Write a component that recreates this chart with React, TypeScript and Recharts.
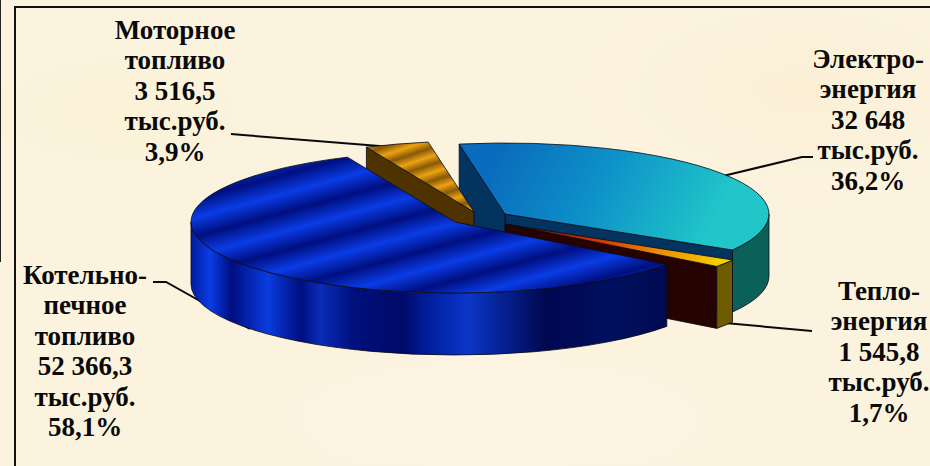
import { Pie, PieChart } from "recharts";

const categories = [
  "Электроэнергия",
  "Теплоэнергия",
  "Котельно-печное топливо",
  "Моторное топливо",
];
const values = [32648, 1545.8, 52366.3, 3516.5];
const nameLines = [
  ["Электро-", "энергия"],
  ["Тепло-", "энергия"],
  ["Котельно-", "печное", "топливо"],
  ["Моторное", "топливо"],
];
const valueLabels = ["32 648", "1 545,8", "52 366,3", "3 516,5"];
const percentLabels = ["36,2%", "1,7%", "58,1%", "3,9%"];
const unit = "тыс.руб.";

const data = categories.map((name, i) => ({ name, value: values[i] }));

// how far each slice is pulled out of the pie, in px
const OFFSETS = [
  [50, -8],
  [50, 2],
  [0, 0],
  [19, -10],
];
const TOP_FILL = ["url(#tealTop)", "url(#heatTop)", "url(#blueTop)", "url(#motorTop)"];
const RIM_FILL = ["#0b6058", "#6f5c00", "url(#blueSide)", "#503500"];
const FACE_FILL = ["#03335f", "#260300", "#000a60", "#4e3300"];

const LABEL_POS = [
  { x: 868, y: 68 },
  { x: 879, y: 300 },
  { x: 85, y: 284 },
  { x: 175, y: 39 },
];
const LEADERS = [
  "M813 157 L802 157 L723 176",
  "M812 331 L725 323",
  "M153 282 L166 282 L250 329",
  "M231 134 L243 135 L392 147",
];

const CX = 455;
const CY = 222;
const RX = 264;
const RY = 71;
const DEPTH = 62;
const STROKE = "#0a0a14";

function SliceShape(props: any, only: number[]) {
  const { cx, cy, outerRadius, startAngle, endAngle, index } = props;
  if (!only.includes(index)) return <g />;
  const ry = (outerRadius * RY) / RX;
  const ox = cx + OFFSETS[index][0];
  const oy = cy + OFFSETS[index][1];
  const a = Math.min(startAngle, endAngle);
  const b = Math.max(startAngle, endAngle);
  const pt = (t: number, d = 0) => {
    const r = (t * Math.PI) / 180;
    return `${ox + outerRadius * Math.cos(r)} ${oy - ry * Math.sin(r) + d}`;
  };
  const cos = (t: number) => Math.cos((t * Math.PI) / 180);
  const face = (t: number) =>
    `M${ox} ${oy} L${pt(t)} L${pt(t, DEPTH)} L${ox} ${oy + DEPTH} Z`;

  const rimA = Math.max(a, -180);
  const rimB = Math.min(b, 0);
  const large = b - a > 180 ? 1 : 0;
  const rimLarge = rimB - rimA > 180 ? 1 : 0;
  const arc = `${outerRadius} ${ry} 0`;

  return (
    <g stroke={STROKE} strokeWidth={0.8} strokeLinejoin="round">
      {cos(a) > 0 && <path d={face(a)} fill={FACE_FILL[index]} />}
      {cos(b) < 0 && <path d={face(b)} fill={FACE_FILL[index]} />}
      {rimB > rimA && (
        <path
          d={`M${pt(rimA)} A${arc} ${rimLarge} 0 ${pt(rimB)} L${pt(rimB, DEPTH)} A${arc} ${rimLarge} 1 ${pt(rimA, DEPTH)} Z`}
          fill={RIM_FILL[index]}
        />
      )}
      <path
        d={`M${ox} ${oy} L${pt(a)} A${arc} ${large} 0 ${pt(b)} Z`}
        fill={TOP_FILL[index]}
      />
    </g>
  );
}

function Label({ i }: { i: number }) {
  const lines = [...nameLines[i], valueLabels[i], unit, percentLabels[i]];
  return (
    <text
      x={LABEL_POS[i].x}
      y={LABEL_POS[i].y}
      textAnchor="middle"
      fontFamily="'Liberation Serif', serif"
      fontWeight="bold"
      fontSize={27}
      fill="#0a0a0a"
    >
      {lines.map((line, k) => (
        <tspan key={k} x={LABEL_POS[i].x} y={LABEL_POS[i].y + k * 30.4}>
          {line}
        </tspan>
      ))}
    </text>
  );
}

const pageStyle: React.CSSProperties = {
  position: "fixed",
  left: 0,
  top: 0,
  width: 930,
  height: 466,
  overflow: "hidden",
  background:
    "radial-gradient(ellipse 200px 90px at 120px 110px, #fbf2d8 0%, transparent 100%)," +
    "radial-gradient(ellipse 220px 110px at 800px 90px, #fbf0d6 0%, transparent 100%)," +
    "radial-gradient(ellipse 260px 80px at 500px 420px, #fdf5e4 0%, transparent 100%)," +
    "#fcf3df",
};

export default function App() {
  return (
    <div style={pageStyle}>
      <div style={{ position: "absolute", left: 14, top: 6, right: -4, bottom: -4, borderLeft: "2px solid #111", borderTop: "2px solid #111" }} />
      <div style={{ position: "absolute", left: 0, top: 0, width: 1, height: 262, background: "#222" }} />
      <PieChart width={930} height={466} margin={{ top: 0, right: 0, bottom: 0, left: 0 }}>
        <defs>
          <linearGradient id="tealTop" gradientUnits="userSpaceOnUse" x1="500" y1="150" x2="700" y2="250">
            <stop offset="0" stopColor="#0a6cbc" />
            <stop offset="0.45" stopColor="#0d90c8" />
            <stop offset="1" stopColor="#20c6c8" />
          </linearGradient>
          <linearGradient id="heatTop" gradientUnits="userSpaceOnUse" x1="520" y1="226" x2="730" y2="260">
            <stop offset="0" stopColor="#6a0a00" />
            <stop offset="0.4" stopColor="#d83a00" />
            <stop offset="0.65" stopColor="#e88a08" />
            <stop offset="1" stopColor="#f8d800" />
          </linearGradient>
          <linearGradient id="blueTop" gradientUnits="userSpaceOnUse" spreadMethod="repeat" x1="323" y1="183" x2="332.6" y2="218.4">
            <stop offset="0" stopColor="#0a3ce6" />
            <stop offset="0.5" stopColor="#000f80" />
            <stop offset="1" stopColor="#0a3ce6" />
          </linearGradient>
          <linearGradient id="motorTop" gradientUnits="userSpaceOnUse" spreadMethod="repeat" x1="400" y1="150" x2="405" y2="165">
            <stop offset="0" stopColor="#eba312" />
            <stop offset="0.5" stopColor="#8a5808" />
            <stop offset="1" stopColor="#eba312" />
          </linearGradient>
          <linearGradient id="blueSide" gradientUnits="userSpaceOnUse" x1="191" y1="0" x2="670" y2="0">
            <stop offset="0" stopColor="#001c9c" />
            <stop offset="0.04" stopColor="#0a3ce6" />
            <stop offset="0.085" stopColor="#000e80" />
            <stop offset="0.16" stopColor="#0a3ce0" />
            <stop offset="0.23" stopColor="#000e80" />
            <stop offset="0.27" stopColor="#0a2cb8" />
            <stop offset="0.34" stopColor="#00107c" />
            <stop offset="0.44" stopColor="#000a68" />
            <stop offset="0.5" stopColor="#0020a0" />
            <stop offset="0.576" stopColor="#0a36c8" />
            <stop offset="0.74" stopColor="#000850" />
            <stop offset="0.88" stopColor="#000f60" />
            <stop offset="1" stopColor="#000a50" />
          </linearGradient>
        </defs>
        <Pie
          data={data}
          dataKey="value"
          nameKey="name"
          cx={CX}
          cy={CY}
          outerRadius={RX}
          startAngle={100}
          endAngle={-260}
          isAnimationActive={false}
          shape={(p: any) => SliceShape(p, [0, 1, 3])}
        />
        <Pie
          data={data}
          dataKey="value"
          nameKey="name"
          cx={CX}
          cy={CY}
          outerRadius={RX}
          startAngle={100}
          endAngle={-260}
          isAnimationActive={false}
          shape={(p: any) => SliceShape(p, [2])}
        />
        <g fill="none" stroke="#0a0a0a" strokeWidth={2}>
          {LEADERS.map((d) => (
            <path key={d} d={d} />
          ))}
        </g>
        {categories.map((c, i) => (
          <Label key={c} i={i} />
        ))}
      </PieChart>
    </div>
  );
}
